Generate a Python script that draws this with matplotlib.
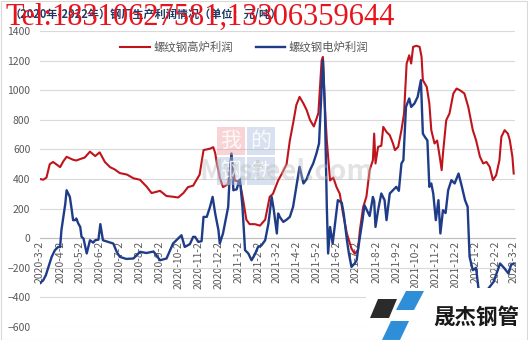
import numpy as np
import pandas as pd
import matplotlib
matplotlib.use("Agg")
import matplotlib.pyplot as plt
from matplotlib.patches import Polygon, Rectangle

plt.rcParams["font.family"] = ["Noto Sans CJK SC", "DejaVu Sans"]

# Data: days after 2020-03-02 and profit (yuan / ton)
start = "2020-03-02"
bf_days = [0, 5, 10, 15, 20, 25, 31, 36, 41, 46, 51, 56, 62, 69, 77, 85, 92, 100, 108, 115,
           123, 134, 144, 154, 164, 172, 185, 195, 205, 213, 221, 228, 236, 246, 252, 262, 267, 270, 272, 277,
           282, 290, 295, 300, 308, 313, 318, 323, 331, 339, 347, 354, 359, 367, 372, 380, 385, 390, 395, 400,
           406, 411, 416, 422, 429, 434, 436, 439, 442, 447, 452, 457, 462, 467, 473, 480, 485, 490, 493, 498,
           503, 508, 513, 515, 517, 521, 526, 529, 534, 539, 544, 547, 552, 557, 561, 565, 569, 572, 575, 580,
           585, 588, 590, 596, 600, 603, 608, 612, 616, 619, 621, 626, 631, 637, 642, 647, 654, 660, 667, 672,
           678, 683, 688, 693, 698, 703, 708, 711, 716, 721, 724, 728, 730]
bf_profit = [400, 395, 410, 500, 515, 500, 480, 520, 550, 540, 530, 525, 535, 545, 585, 555, 580, 515, 480, 465,
             440, 430, 405, 395, 350, 305, 320, 285, 280, 275, 305, 345, 355, 430, 595, 605, 615, 575, 520, 410,
             345, 365, 565, 390, 380, 260, 125, 95, 95, 85, 125, 280, 300, 390, 430, 500, 660, 775, 900, 955,
             910, 865, 800, 755, 845, 1200, 1225, 885, 660, 390, 410, 345, 300, 165, 30, -70, -105, -80, 55, 210,
             280, 460, 527, 707, 505, 617, 625, 752, 718, 696, 640, 595, 617, 730, 842, 1180, 1236, 1180, 1293, 1300,
             1293, 1225, 1068, 1022, 910, 730, 640, 660, 550, 460, 572, 797, 842, 978, 1011, 1000, 978, 887, 730, 662,
             550, 505, 515, 482, 392, 426, 527, 685, 730, 707, 662, 550, 437]

eaf_days = [0, 5, 9, 13, 18, 23, 28, 31, 33, 39, 41, 46, 49, 51, 54, 56, 59, 62, 64, 67,
            72, 77, 82, 85, 90, 93, 97, 105, 113, 118, 123, 133, 144, 154, 164, 175, 185, 195, 205, 218,
            223, 231, 236, 239, 244, 249, 252, 257, 262, 266, 270, 275, 277, 282, 290, 292, 295, 298, 303, 308,
            312, 316, 321, 326, 331, 336, 341, 347, 352, 357, 360, 365, 367, 370, 375, 380, 385, 390, 395, 400,
            406, 411, 416, 421, 426, 430, 434, 436, 439, 442, 444, 447, 451, 454, 459, 465, 468, 473, 476, 480,
            485, 488, 490, 493, 497, 500, 505, 508, 513, 515, 517, 521, 526, 531, 534, 539, 544, 549, 553, 557,
            560, 564, 569, 572, 577, 582, 587, 590, 593, 597, 600, 603, 606, 610, 614, 617, 621, 625, 629, 634,
            639, 645, 650, 655, 659, 662, 667, 672, 676, 680, 685, 689, 699, 709, 715, 722, 726, 730]
eaf_profit = [-304, -284, -250, -194, -126, -81, -59, -60, 54, 234, 324, 279, 189, 122, 122, 133, 99, 76, 9, -2,
              -103, -14, -30, -14, -10, 95, -14, -25, -36, -90, -126, -140, -137, -92, -100, -90, -149, -137, -36, 20,
              -59, -40, 9, 9, -25, -20, 144, 144, 212, 279, 167, 54, -36, 32, 212, 392, 572, 324, 330, 403,
              212, -81, -103, -149, -110, -59, -50, -14, 99, 279, 200, 32, 167, 140, 110, 125, 144, 212, 347, 482,
              370, 400, 459, 505, 572, 640, 1022, 1203, 885, 212, -103, 76, -36, 76, 257, 240, 167, -14, -103, -194,
              -170, -149, -81, 9, 122, 223, 178, 150, 279, 250, 76, 189, 302, 257, 122, 302, 324, 347, 320, 505,
              527, 887, 944, 887, 910, 955, 1068, 707, 685, 660, 347, 370, 302, 122, 257, 32, 189, 170, 324, 392,
              370, 437, 350, 257, 212, -126, -216, -200, -350, -400, -420, -351, -295, -171, -200, -239, -180, -171]

series_names = ["螺纹钢高炉利润", "螺纹钢电炉利润"]
series_colors = ["#C0141C", "#1F3C88"]
title = "（2020年-2022年）钢厂生产利润情况（单位：元/吨）"
watermark = "Tel:18310627581,13306359644"

t0 = pd.Timestamp(start)
bf_dates = t0 + pd.to_timedelta(bf_days, unit="D")
eaf_dates = t0 + pd.to_timedelta(eaf_days, unit="D")
ticks = pd.date_range(start, "2022-03-02", freq=pd.DateOffset(months=1))
tick_labels = [f"{d.year}-{d.month}-{d.day}" for d in ticks]

fig = plt.figure(figsize=(5.28, 3.4), dpi=100)
ax = fig.add_axes([40 / 528, 1 - 327 / 340, 475 / 528, 296 / 340])

ax.plot(bf_dates, bf_profit, color=series_colors[0], lw=1.5, label=series_names[0], zorder=3)
ax.plot(eaf_dates, eaf_profit, color=series_colors[1], lw=1.7, label=series_names[1], zorder=4)

ax.set_ylim(-600, 1400)
ax.set_yticks(np.arange(-600, 1401, 200))
ax.set_xlim(ticks[0], ticks[-1] + pd.Timedelta(days=2))
ax.set_xticks(ticks)
ax.set_xticklabels(tick_labels)
ax.grid(axis="y", color="#d9d9d9", lw=0.8)
ax.set_axisbelow(True)
for s in ["left", "right", "top"]:
    ax.spines[s].set_visible(False)
ax.spines["bottom"].set_position(("data", 0))
ax.spines["bottom"].set_color("#bfbfbf")
ax.tick_params(axis="y", length=0, pad=7, labelsize=7.5, labelcolor="#595959")
ax.tick_params(axis="x", length=0, pad=2, labelsize=7.5, labelcolor="#595959", labelrotation=90)
for lbl in ax.get_xticklabels():
    lbl.set_va("top")
    lbl.set_ha("center")

ax.legend(loc="center", bbox_to_anchor=(0.43, 0.946), ncol=2, frameon=False,
          fontsize=8.2, handlelength=2.6, columnspacing=2.0, handletextpad=0.3,
          labelcolor="#595959")

# title and watermarks
fig.text(10 / 528, 1 - 15 / 340, title, fontsize=8, color="#1F3864", fontweight="bold",
         va="center", ha="left")
fig.text(5 / 528, 1 - 17 / 340, watermark, fontsize=22, color="#E8141C",
         family="Liberation Serif", va="center", ha="left", zorder=10)

# mysteel watermark
wm_chars = ["我", "的", "钢", "铁"]
wm_cols = ["#F2A0A6", "#A9BEDD", "#A9BEDD", "#A9BEDD"]
for i, (ch, c) in enumerate(zip(wm_chars, wm_cols)):
    px = 217 + (i % 2) * 30
    py = 127 + (i // 2) * 30
    fig.add_artist(Rectangle((px / 528, 1 - (py + 28) / 340), 28 / 528, 28 / 340,
                             transform=fig.transFigure, color=c, alpha=0.45, lw=0, zorder=1))
    fig.text((px + 14) / 528, 1 - (py + 14) / 340, ch, fontsize=15, color="white",
             ha="center", va="center", alpha=0.85, zorder=1)
fig.text(200 / 528, 1 - 172 / 340, "Mysteel.com", fontsize=20, color="#BBBBBB", alpha=0.4,
         ha="left", va="center", fontweight="bold", zorder=1)

# logo box bottom right
fig.add_artist(Rectangle((366 / 528, 0), 162 / 528, 52 / 340, transform=fig.transFigure,
                         color="white", lw=0, zorder=20))
def para(pts, color):
    fig.add_artist(Polygon([(x / 528, 1 - y / 340) for x, y in pts], closed=True,
                           transform=fig.transFigure, color=color, lw=0, zorder=21))
para([(378, 299), (397, 299), (389, 318), (370, 318)], "#2B2B2B")
para([(406, 291), (424, 291), (414, 310), (396, 310)], "#2E8FD8")
para([(391, 321), (409, 321), (400, 340), (382, 340)], "#2E8FD8")
fig.text(476 / 528, 1 - 317 / 340, "晟杰钢管", fontsize=15.5, fontweight="bold",
         color="#1A1A1A", ha="center", va="center", zorder=22)

fig.add_artist(Rectangle((0.5 / 528, 0.5 / 340), 526.5 / 528, 338.5 / 340, transform=fig.transFigure,
                         fill=False, edgecolor="#d9d9d9", lw=0.8, zorder=30))

fig.savefig("out.png", dpi=100)
